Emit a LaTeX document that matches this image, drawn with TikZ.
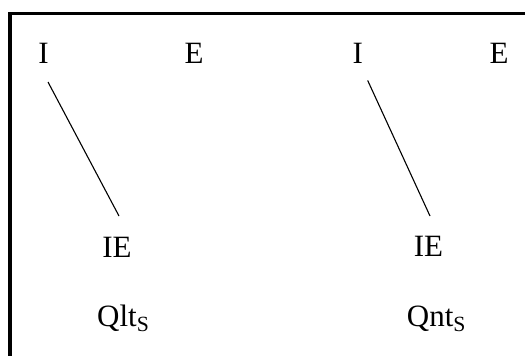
\documentclass[tikz,border=0pt]{standalone}
\usepackage{fontspec}
\setmainfont{Liberation Serif}
\usetikzlibrary{calc}

\tikzset{
    lbl/.style = {anchor = base, inner sep = 0pt, font = \fontsize{31}{37}\selectfont},
    branch/.style = {line width = 1.1pt},
    frame/.style = {line width = 3.2pt}
}

\begin{document}
\begin{tikzpicture}[x=1pt, y=-1pt]
    \useasboundingbox (0,0) rectangle (525,356);
    \clip (0,0) rectangle (525,356);
    % Frame
    \draw[frame] (10,13.5) rectangle (545,380);

    % Left tree
    \node[lbl] (iL) at (43.5,63.5) {I};
    \node[lbl] (eL) at (194,63) {E};
    \node[lbl] (ieL) at (117,257) {IE};
    \node[lbl, anchor = base west] (qlt) at (97,326) {Qlt\textsubscript{S}};
    \draw[branch] ($(iL.base)+(4.5,18.5)$) -- ($(ieL.base)+(2,-41)$);

    % Right tree
    \node[lbl] (iR) at (357.7,63.5) {I};
    \node[lbl] (eR) at (499,63) {E};
    \node[lbl] (ieR) at (428.5,256.5) {IE};
    \node[lbl, anchor = base west] (qnt) at (406.7,326) {Qnt\textsubscript{S}};
    \draw[branch] ($(iR.base)+(10,17)$) -- ($(ieR.base)+(1.5,-40.5)$);
\end{tikzpicture}
\end{document}
